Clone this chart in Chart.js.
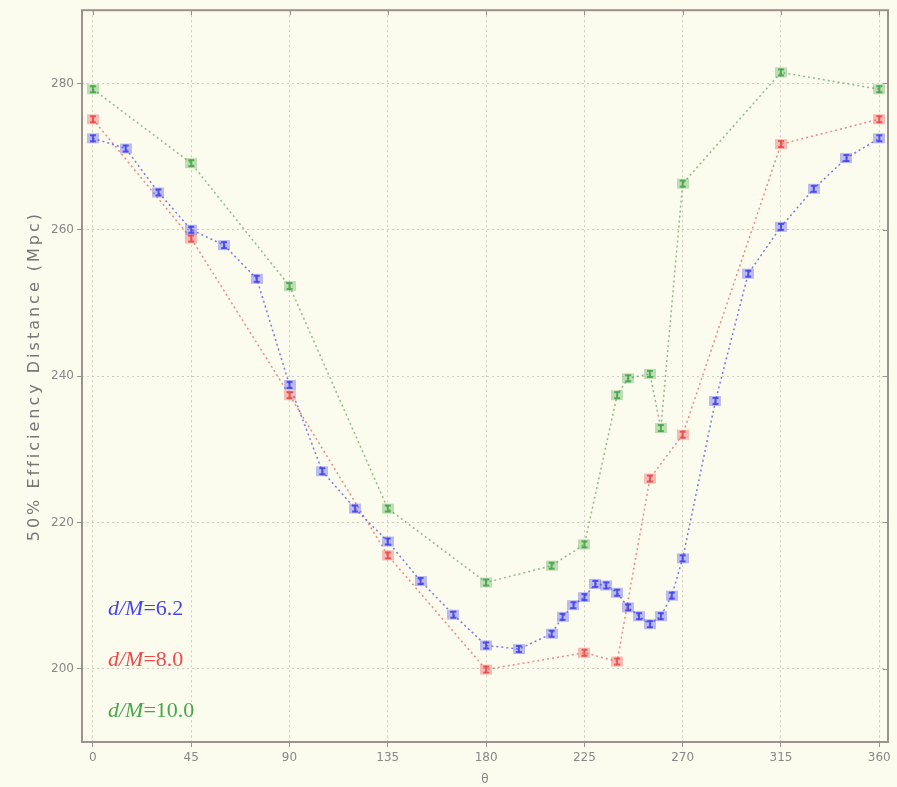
<!DOCTYPE html>
<html>
<head>
    <title>50% Efficiency Distance</title>
    <script src="https://cdn.jsdelivr.net/npm/chart.js"></script>
    <style>
        html, body {
            margin: 0;
            padding: 0;
            background-color: #fbfbee;
        }
        #wrap {
            width: 897px;
            height: 787px;
        }
    </style>
</head>
<body>
    <div id="wrap"><canvas id="chart" width="897" height="787"></canvas></div>
    <script>
        // values
        const xTicks = [0, 45, 90, 135, 180, 225, 270, 315, 360];
        const yTicks = [200, 220, 240, 260, 280];

        const anglesA = [0, 15, 30, 45, 60, 75, 90, 105, 120, 135, 150, 165, 180, 195, 210, 215, 220, 225, 230, 235, 240, 245, 250, 255, 260, 265, 270, 285, 300, 315, 330, 345, 360];
        const distA = [272.5, 271.1, 265.1, 260.0, 257.9, 253.3, 238.8, 227.0, 221.9, 217.4, 212.0, 207.4, 203.2, 202.7, 204.8, 207.1, 208.7, 209.8, 211.6, 211.4, 210.4, 208.4, 207.2, 206.1, 207.2, 210.0, 215.1, 236.6, 254.0, 260.4, 265.6, 269.8, 272.5];

        const anglesB = [0, 45, 90, 135, 180, 225, 240, 255, 270, 315, 360];
        const distB = [275.1, 258.8, 237.4, 215.5, 199.9, 202.2, 201.0, 226.0, 232.0, 271.7, 275.1];

        const anglesC = [0, 45, 90, 135, 180, 210, 225, 240, 245, 255, 260, 270, 315, 360];
        const distC = [279.2, 269.1, 252.3, 221.9, 211.8, 214.1, 217.0, 237.4, 239.7, 240.3, 232.9, 266.3, 281.5, 279.2];

        const labels = ['6.2', '8.0', '10.0'];
        const colors = ['#4646ee', '#ee4a4a', '#4aa64a'];
        const lineColors = ['rgba(80,80,220,0.75)', 'rgba(235,90,90,0.7)', 'rgba(100,160,100,0.7)'];

        // small square marker with an error-bar look
        function makeMarker(col) {
            const c = document.createElement('canvas');
            c.width = 12;
            c.height = 12;
            const g = c.getContext('2d');
            g.fillStyle = col;
            g.globalAlpha = 0.35;
            g.fillRect(0, 1, 12, 10);
            g.globalAlpha = 0.9;
            g.fillRect(3, 2, 6, 2);
            g.fillRect(3, 8, 6, 2);
            g.fillRect(5, 2, 2, 8);
            return c;
        }

        function pts(xs, ys) {
            return xs.map((x, i) => ({ x: x, y: ys[i] }));
        }

        const series = [pts(anglesA, distA), pts(anglesB, distB), pts(anglesC, distC)];

        const frame = {
            id: 'frame',
            afterDraw(chart) {
                const ctx = chart.ctx;
                const a = chart.chartArea;
                ctx.save();
                ctx.strokeStyle = '#9c918c';
                ctx.lineWidth = 2;
                ctx.strokeRect(a.left, a.top, a.right - a.left, a.bottom - a.top);
                // ticks on top and right
                ctx.lineWidth = 1;
                const xs = chart.scales.x, ys = chart.scales.y;
                xTicks.forEach(v => {
                    const px = Math.round(xs.getPixelForValue(v)) + 0.5;
                    ctx.beginPath();
                    ctx.moveTo(px, a.top);
                    ctx.lineTo(px, a.top + 5);
                    ctx.stroke();
                });
                yTicks.forEach(v => {
                    const py = Math.round(ys.getPixelForValue(v)) + 0.5;
                    ctx.beginPath();
                    ctx.moveTo(a.right, py);
                    ctx.lineTo(a.right - 5, py);
                    ctx.stroke();
                });
                // y title, spaced out like the original
                ctx.save();
                ctx.translate(35, (a.top + a.bottom) / 2);
                ctx.rotate(-Math.PI / 2);
                ctx.fillStyle = '#777';
                ctx.font = '16px "DejaVu Sans"';
                ctx.letterSpacing = '3px';
                ctx.textAlign = 'center';
                ctx.textBaseline = 'middle';
                ctx.fillText('50% Efficiency Distance (Mpc)', 0, 0);
                ctx.restore();
                // legend text
                const rows = [615, 666, 717];
                labels.forEach((lab, i) => {
                    let x = 108;
                    ctx.fillStyle = colors[i];
                    ctx.textBaseline = 'alphabetic';
                    ctx.font = 'italic 22px "Liberation Serif"';
                    ctx.fillText('d/M', x, rows[i]);
                    x += ctx.measureText('d/M').width;
                    ctx.font = '22px "Liberation Serif"';
                    ctx.fillText('=' + lab, x, rows[i]);
                });
                ctx.restore();
            }
        };

        new Chart(document.getElementById('chart'), {
            type: 'scatter',
            data: {
                datasets: series.map((d, i) => ({
                    label: 'd/M=' + labels[i],
                    data: d,
                    showLine: true,
                    borderColor: lineColors[i],
                    borderWidth: 1.5,
                    borderDash: [2, 3],
                    pointStyle: makeMarker(colors[i]),
                    pointRadius: 6,
                    pointHoverRadius: 6
                }))
            },
            options: {
                responsive: false,
                animation: false,
                layout: { padding: { top: 8, right: 9, left: 0, bottom: 0 } },
                plugins: { legend: { display: false }, tooltip: { enabled: false } },
                scales: {
                    x: {
                        type: 'linear',
                        min: -5,
                        max: 364,
                        afterBuildTicks: s => { s.ticks = xTicks.map(v => ({ value: v })); },
                        afterFit: s => { s.height = 45; },
                        ticks: { color: '#888', font: { family: 'DejaVu Sans', size: 12 }, padding: 4 },
                        grid: { color: '#cfccc0', tickLength: 5, tickColor: '#9c918c' },
                        border: { display: false, dash: [2, 3] },
                        title: { display: true, text: 'θ', color: '#888', font: { family: 'DejaVu Sans', size: 12 }, padding: { top: 0, bottom: 0 } }
                    },
                    y: {
                        min: 190,
                        max: 290,
                        afterBuildTicks: s => { s.ticks = yTicks.map(v => ({ value: v })); },
                        afterFit: s => { s.width = 82; },
                        ticks: { color: '#888', font: { family: 'DejaVu Sans', size: 12 }, padding: 3 },
                        grid: { color: '#cfccc0', tickLength: 5, tickColor: '#9c918c' },
                        border: { display: false, dash: [2, 3] }
                    }
                }
            },
            plugins: [frame]
        });
    </script>
</body>
</html>
